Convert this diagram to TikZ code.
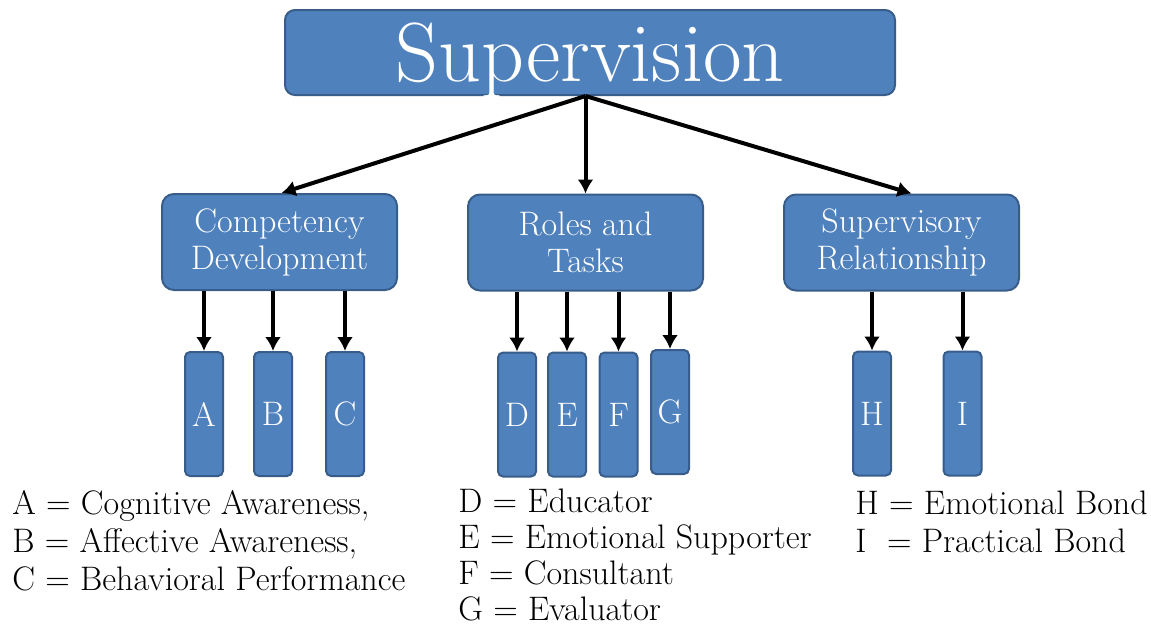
\documentclass[tikz,border=0pt]{standalone}
\usepackage{xcolor}
\usepackage{tikz}
\usetikzlibrary{arrows.meta,positioning}
\definecolor{boxblue}{HTML}{4F81BD}
\definecolor{boxedge}{HTML}{385D8A}

\begin{document}
\begin{tikzpicture}[x=0.5pt,y=-0.5pt,>={Latex[length=7pt,width=8pt]},
 bluebox/.style={draw=boxedge,fill=boxblue,line width=1pt,text=white,inner sep=0pt},
 topbox/.style={bluebox,rounded corners=5pt,minimum width=305pt,minimum height=42.5pt,text depth=0pt,font=\fontsize{42}{50}\selectfont},
 midbox/.style={bluebox,rounded corners=6pt,minimum width=117.5pt,minimum height=48pt,align=center,font=\fontsize{17}{18.5}\selectfont},
 leafbox/.style={bluebox,rounded corners=2.5pt,minimum width=19pt,minimum height=62pt,font=\fontsize{17}{18.5}\selectfont},
 legend/.style={anchor=north west,inner sep=0pt,align=left,font=\fontsize{17}{19}\selectfont},
 link/.style={->,line width=2pt}]
 \useasboundingbox (0,0) rectangle (1151,623);
 \node[topbox] (sup) at (590,52.5) {Supervision};
 \node[midbox] (comp) at (279.5,242) {Competency\\Development};
 \node[midbox] (roles) at (585.5,242.5) {Roles and\\Tasks};
 \node[midbox] (rel) at (901.5,242.5) {Supervisory\\Relationship};
 \node[leafbox] (A) at (204,414) {A};
 \node[leafbox] (B) at (273,414) {B};
 \node[leafbox] (C) at (345,414) {C};
 \node[leafbox] (D) at (517,414.5) {D};
 \node[leafbox] (E) at (567,414.5) {E};
 \node[leafbox] (F) at (618.5,414.5) {F};
 \node[leafbox] (G) at (670,412) {G};
 \node[leafbox] (H) at (872,413.5) {H};
 \node[leafbox] (I) at (962.5,413.5) {I};
 \coordinate (fork) at (sup.south -| roles.north);
 \draw[link] (fork) -- ([xshift=1pt]comp.north);
 \draw[link] (fork) -- (roles.north);
 \draw[link] (fork) -- ([xshift=5pt]rel.north);
 \foreach \leaf in {A,B,C}
  \draw[link] (comp.south -| \leaf.north) -- (\leaf.north);
 \foreach \leaf in {D,E,F,G}
  \draw[link] (roles.south -| \leaf.north) -- (\leaf.north);
 \foreach \leaf in {H,I}
  \draw[link] (rel.south -| \leaf.north) -- (\leaf.north);
 \node[legend] (keycomp) at (12,490)
 {A = Cognitive Awareness,\\B = Affective Awareness,\\C = Behavioral Performance};
 \node[legend,font=\fontsize{17}{18}\selectfont] (keyroles) at (458,488)
 {D = Educator\\E = Emotional Supporter\\F = Consultant\\G = Evaluator};
 \node[legend] (keyrel) at (855,490)
 {H = Emotional Bond\\I~ = Practical Bond};
\end{tikzpicture}
\end{document}
